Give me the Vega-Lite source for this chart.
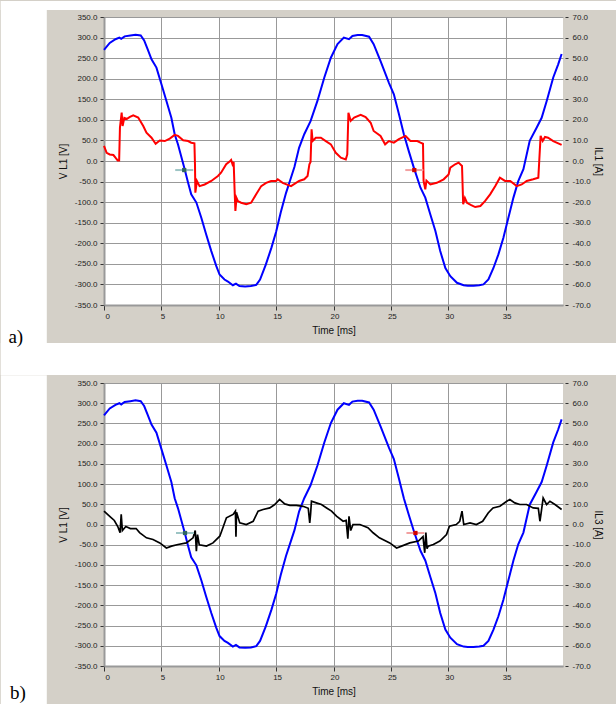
{
  "$schema": "https://vega.github.io/schema/vega-lite/v6.json",
  "background": "#d4d0c8",
  "padding": {"left": 0, "top": 0, "right": 0, "bottom": 0},
  "spacing": 0,
  "datasets": {
    "blue": [
      {"t":0,"v":270},{"t":0.5,"v":287},{"t":1,"v":296},{"t":1.34,"v":300},{"t":1.5,"v":297},{"t":1.8,"v":303},{"t":2.3,"v":305},{"t":2.75,"v":307},{"t":3.2,"v":305},{"t":3.5,"v":293},{"t":3.8,"v":272},{"t":4.14,"v":247},{"t":4.57,"v":227},{"t":5,"v":187},{"t":5.44,"v":146},{"t":5.87,"v":105},{"t":6.16,"v":65},{"t":6.45,"v":40},{"t":7.03,"v":-20},{"t":7.3,"v":-50},{"t":7.6,"v":-81},{"t":8.05,"v":-101},{"t":8.48,"v":-138},{"t":8.9,"v":-178},{"t":9.35,"v":-219},{"t":9.78,"v":-255},{"t":10.07,"v":-276},{"t":10.5,"v":-288},{"t":10.8,"v":-293},{"t":11.23,"v":-302},{"t":11.5,"v":-298},{"t":11.8,"v":-304},{"t":12.3,"v":-305},{"t":12.8,"v":-304},{"t":13.27,"v":-301},{"t":13.6,"v":-288},{"t":14.1,"v":-252},{"t":14.6,"v":-210},{"t":15,"v":-172},{"t":15.4,"v":-125},{"t":15.86,"v":-78},{"t":16.3,"v":-40},{"t":16.6,"v":-14},{"t":17,"v":32},{"t":17.45,"v":65},{"t":18,"v":97},{"t":18.6,"v":146},{"t":19.2,"v":203},{"t":19.77,"v":251},{"t":20.35,"v":284},{"t":20.9,"v":300},{"t":21.35,"v":296},{"t":21.65,"v":304},{"t":22.1,"v":306},{"t":22.5,"v":306},{"t":23.1,"v":302},{"t":23.5,"v":284},{"t":24.1,"v":243},{"t":24.83,"v":190},{"t":25.26,"v":162},{"t":25.7,"v":114},{"t":26.13,"v":65},{"t":26.56,"v":24},{"t":27,"v":-16},{"t":27.58,"v":-65},{"t":28,"v":-89},{"t":28.44,"v":-130},{"t":28.88,"v":-170},{"t":29.3,"v":-219},{"t":29.75,"v":-260},{"t":30.18,"v":-280},{"t":30.76,"v":-296},{"t":31.34,"v":-302},{"t":31.7,"v":-303},{"t":32.2,"v":-303},{"t":32.7,"v":-302},{"t":33.07,"v":-300},{"t":33.5,"v":-288},{"t":33.94,"v":-260},{"t":34.37,"v":-227},{"t":34.8,"v":-187},{"t":35.24,"v":-138},{"t":35.68,"v":-89},{"t":36.1,"v":-49},{"t":36.55,"v":-20},{"t":37.1,"v":49},{"t":37.7,"v":81},{"t":38.14,"v":105},{"t":38.58,"v":146},{"t":39.15,"v":203},{"t":39.58,"v":235},{"t":39.88,"v":260}
    ],
    "red": [
      {"t":0,"a":7.3},{"t":0.23,"a":4},{"t":0.5,"a":3.2},{"t":0.82,"a":2.9},{"t":1,"a":1.6},{"t":1.19,"a":0.3},{"t":1.32,"a":0.3},{"t":1.39,"a":16.2},{"t":1.54,"a":23.5},{"t":1.62,"a":17},{"t":1.77,"a":21},{"t":2,"a":20.5},{"t":2.26,"a":21.4},{"t":2.55,"a":22.2},{"t":2.98,"a":21.1},{"t":3.42,"a":17},{"t":3.7,"a":13.8},{"t":4.14,"a":11.3},{"t":4.5,"a":8.4},{"t":4.86,"a":10},{"t":5.3,"a":9.7},{"t":5.73,"a":10.9},{"t":6.16,"a":12.7},{"t":6.45,"a":12.2},{"t":6.9,"a":10.1},{"t":7.33,"a":9.7},{"t":7.6,"a":8.9},{"t":7.88,"a":8.6},{"t":7.93,"a":-2},{"t":7.96,"a":-15.4},{"t":8.1,"a":-9.7},{"t":8.33,"a":-12.2},{"t":8.77,"a":-11.4},{"t":9.35,"a":-9.7},{"t":9.93,"a":-7.3},{"t":10.2,"a":-5.7},{"t":10.65,"a":-1.6},{"t":11,"a":0},{"t":11.08,"a":0.5},{"t":11.2,"a":-1.6},{"t":11.3,"a":-0.5},{"t":11.38,"a":-14},{"t":11.45,"a":-24.3},{"t":11.55,"a":-18},{"t":11.67,"a":-19.5},{"t":11.95,"a":-20.3},{"t":12.4,"a":-21},{"t":12.82,"a":-20.3},{"t":13.26,"a":-16.2},{"t":13.7,"a":-12.2},{"t":14.13,"a":-10.6},{"t":14.56,"a":-9.7},{"t":15,"a":-9.7},{"t":15.14,"a":-8.9},{"t":15.57,"a":-10.6},{"t":16.3,"a":-12.2},{"t":17,"a":-9.7},{"t":17.45,"a":-8.9},{"t":17.74,"a":-7.3},{"t":17.9,"a":-1.6},{"t":18,"a":-0.5},{"t":18.09,"a":15.4},{"t":18.18,"a":9.7},{"t":18.46,"a":11.3},{"t":18.9,"a":11.3},{"t":19.33,"a":9.7},{"t":19.77,"a":8.1},{"t":20.2,"a":4},{"t":20.64,"a":1.6},{"t":21.07,"a":0.8},{"t":21.2,"a":3.2},{"t":21.3,"a":23.5},{"t":21.5,"a":19.5},{"t":21.8,"a":21.1},{"t":22.37,"a":22.4},{"t":22.8,"a":21.4},{"t":23.24,"a":18.6},{"t":23.5,"a":14.6},{"t":24.1,"a":12.2},{"t":24.5,"a":8.1},{"t":24.83,"a":9.7},{"t":25.26,"a":8.9},{"t":25.7,"a":10.6},{"t":26.28,"a":12.2},{"t":26.7,"a":9.7},{"t":27.3,"a":9.7},{"t":27.58,"a":8.9},{"t":27.8,"a":8.4},{"t":27.85,"a":-9.7},{"t":28,"a":-13.8},{"t":28.1,"a":-9.5},{"t":28.44,"a":-11.4},{"t":29,"a":-10.6},{"t":29.6,"a":-8.9},{"t":30.03,"a":-6.5},{"t":30.18,"a":-3.2},{"t":30.6,"a":-1.6},{"t":30.9,"a":-0.8},{"t":31.2,"a":-2.4},{"t":31.3,"a":-21},{"t":31.45,"a":-18},{"t":31.63,"a":-20.3},{"t":32,"a":-21.5},{"t":32.35,"a":-22.4},{"t":32.8,"a":-21.9},{"t":33.2,"a":-19.5},{"t":33.65,"a":-16.2},{"t":34.1,"a":-12.2},{"t":34.5,"a":-8.1},{"t":34.95,"a":-9.7},{"t":35.4,"a":-9.7},{"t":35.97,"a":-12.2},{"t":36.4,"a":-11.4},{"t":36.84,"a":-9.7},{"t":37.4,"a":-8.9},{"t":37.85,"a":-8.1},{"t":37.93,"a":0},{"t":38.05,"a":12.2},{"t":38.23,"a":9.7},{"t":38.43,"a":11.7},{"t":38.7,"a":11.3},{"t":39.15,"a":9.7},{"t":39.88,"a":7.8}
    ],
    "black": [
      {"t":0,"a":6.6},{"t":0.5,"a":4},{"t":0.9,"a":2},{"t":1.2,"a":-1},{"t":1.4,"a":-4},{"t":1.5,"a":5},{"t":1.6,"a":-3},{"t":1.9,"a":-1},{"t":2.3,"a":-2},{"t":2.8,"a":-2},{"t":3.1,"a":-4},{"t":3.7,"a":-6.6},{"t":4.27,"a":-7.4},{"t":4.86,"a":-9.1},{"t":5.44,"a":-11.6},{"t":5.88,"a":-10.7},{"t":6.45,"a":-9.9},{"t":7.18,"a":-9.1},{"t":7.76,"a":-6.6},{"t":7.95,"a":-3},{"t":8.05,"a":-13.2},{"t":8.15,"a":-5},{"t":8.3,"a":-10},{"t":8.93,"a":-10.7},{"t":9.5,"a":-9.1},{"t":10.09,"a":-5.8},{"t":10.4,"a":-1},{"t":10.67,"a":3.3},{"t":11.25,"a":5},{"t":11.45,"a":6.6},{"t":11.5,"a":-6},{"t":11.55,"a":6},{"t":11.83,"a":0.8},{"t":12.4,"a":0},{"t":13,"a":1.6},{"t":13.43,"a":6.6},{"t":13.86,"a":7.4},{"t":14.45,"a":8.2},{"t":14.88,"a":9.9},{"t":15.3,"a":12.4},{"t":15.75,"a":10.2},{"t":16.2,"a":9.5},{"t":16.77,"a":9.5},{"t":17.35,"a":9},{"t":17.8,"a":8},{"t":17.93,"a":0.8},{"t":18,"a":5},{"t":18.08,"a":11.5},{"t":18.5,"a":10.7},{"t":18.95,"a":9.9},{"t":19.4,"a":8.2},{"t":19.83,"a":6.6},{"t":20.26,"a":4.1},{"t":20.84,"a":1.6},{"t":21.1,"a":2},{"t":21.25,"a":-7},{"t":21.35,"a":4},{"t":21.5,"a":-3},{"t":21.7,"a":0},{"t":22.3,"a":0},{"t":23,"a":-1.6},{"t":23.45,"a":-4.1},{"t":24,"a":-6.6},{"t":24.9,"a":-9.1},{"t":25.5,"a":-11.6},{"t":25.93,"a":-10.7},{"t":26.65,"a":-9.1},{"t":27.4,"a":-8.2},{"t":27.8,"a":-6},{"t":27.95,"a":-14},{"t":28.05,"a":-4},{"t":28.15,"a":-12},{"t":28.25,"a":-10.7},{"t":28.7,"a":-9.9},{"t":29.27,"a":-8.2},{"t":29.85,"a":-5},{"t":30.1,"a":-0.8},{"t":30.7,"a":0},{"t":31,"a":1.6},{"t":31.2,"a":6.6},{"t":31.35,"a":0},{"t":31.9,"a":0.8},{"t":32.45,"a":0},{"t":33,"a":1.6},{"t":33.48,"a":5.7},{"t":33.9,"a":8.2},{"t":34.5,"a":9},{"t":35.1,"a":11.5},{"t":35.37,"a":12.4},{"t":35.8,"a":10.7},{"t":36.24,"a":9.9},{"t":36.83,"a":9.9},{"t":37.4,"a":8.2},{"t":37.85,"a":8},{"t":37.99,"a":1.6},{"t":38.1,"a":6},{"t":38.27,"a":13.1},{"t":38.57,"a":9.9},{"t":38.86,"a":11.5},{"t":39.3,"a":9.9},{"t":39.88,"a":7.4}
    ]
  },
  "vconcat": [
    {
      "width": 459,
      "height": 288,
      "layer": [
        {"data": {"name": "blue"}, "mark": {"type": "line", "color": "#0000ff", "strokeWidth": 2},
         "encoding": {
           "x": {"field": "t", "type": "quantitative", "scale": {"domain": [0, 40], "nice": false, "zero": false},
                 "axis": {"values": [0, 5, 10, 15, 20, 25, 30, 35], "title": "Time [ms]", "grid": true, "tickSize": 5, "labelPadding": 2, "titlePadding": 5, "labelOffset": 1, "labelOverlap": false}},
           "y": {"field": "v", "type": "quantitative", "scale": {"domain": [-350, 350], "nice": false, "zero": false},
                 "axis": {"orient": "left", "values": [-350, -300, -250, -200, -150, -100, -50, 0, 50, 100, 150, 200, 250, 300, 350], "labelExpr": "(datum.value < 0 ? '-' : '') + format(abs(datum.value), '.1f')", "title": "V L1 [V]", "grid": true, "tickSize": 4, "labelPadding": 3, "titlePadding": 6, "labelOverlap": false}}
         }},
        {"data": {"name": "red"}, "mark": {"type": "line", "color": "#ff0000", "strokeWidth": 2},
         "encoding": {
           "x": {"field": "t", "type": "quantitative", "scale": {"domain": [0, 40], "nice": false, "zero": false}},
           "y": {"field": "a", "type": "quantitative", "scale": {"domain": [-70, 70], "nice": false, "zero": false},
                 "axis": {"orient": "right", "values": [-70, -60, -50, -40, -30, -20, -10, 0, 10, 20, 30, 40, 50, 60, 70], "labelExpr": "(datum.value < 0 ? '-' : '') + format(abs(datum.value), '.1f')", "title": "IL1 [A]", "grid": false, "domain": false, "offset": 2, "tickSize": 3, "labelPadding": 4, "titlePadding": 2, "labelOverlap": false}}
         }},
        {
          "layer": [
            {"data": {"values": [{}]}, "mark": {"type": "rect", "color": "white"},
             "encoding": {"x": {"datum": -8.993, "type": "quantitative", "scale": {"domain": [0, 40], "nice": false, "zero": false}}, "x2": {"datum": -4.985},
                          "y": {"datum": 388.9, "type": "quantitative", "scale": {"domain": [-350, 350], "nice": false, "zero": false}, "axis": null}, "y2": {"datum": -520.1}}},
            {"data": {"values": [{}]}, "mark": {"type": "rect", "color": "white"},
             "encoding": {"x": {"datum": -8.993, "type": "quantitative", "scale": {"domain": [0, 40], "nice": false, "zero": false}}, "x2": {"datum": 44.65},
                          "y": {"datum": 388.9, "type": "quantitative", "scale": {"domain": [-350, 350], "nice": false, "zero": false}, "axis": null}, "y2": {"datum": 367}}},
            {"data": {"values": [{}]}, "mark": {"type": "rect", "color": "white"},
             "encoding": {"x": {"datum": -8.993, "type": "quantitative", "scale": {"domain": [0, 40], "nice": false, "zero": false}}, "x2": {"datum": 44.65},
                          "y": {"datum": -442.4, "type": "quantitative", "scale": {"domain": [-350, 350], "nice": false, "zero": false}, "axis": null}, "y2": {"datum": -520.1}}},
            {"data": {"values": [{}]}, "mark": {"type": "point", "shape": "M-1,0L1,0", "size": 324, "filled": false, "stroke": "#9cc4c4", "strokeWidth": 2, "opacity": 1},
             "encoding": {"x": {"datum": 6.99, "type": "quantitative", "scale": {"domain": [0, 40], "nice": false, "zero": false}},
                          "y": {"datum": -22, "type": "quantitative", "scale": {"domain": [-350, 350], "nice": false, "zero": false}, "axis": null}}},
            {"data": {"values": [{}]}, "mark": {"type": "square", "size": 18, "color": "#2f6464", "opacity": 1},
             "encoding": {"x": {"datum": 6.99, "type": "quantitative", "scale": {"domain": [0, 40], "nice": false, "zero": false}},
                          "y": {"datum": -22, "type": "quantitative", "scale": {"domain": [-350, 350], "nice": false, "zero": false}, "axis": null}}},
            {"data": {"values": [{}]}, "mark": {"type": "point", "shape": "M-1,0L1,0", "size": 324, "filled": false, "stroke": "#f2a0a0", "strokeWidth": 2, "opacity": 1},
             "encoding": {"x": {"datum": 27.04, "type": "quantitative", "scale": {"domain": [0, 40], "nice": false, "zero": false}},
                          "y": {"datum": -22, "type": "quantitative", "scale": {"domain": [-350, 350], "nice": false, "zero": false}, "axis": null}}},
            {"data": {"values": [{}]}, "mark": {"type": "square", "size": 18, "color": "#d00000", "opacity": 1},
             "encoding": {"x": {"datum": 27.04, "type": "quantitative", "scale": {"domain": [0, 40], "nice": false, "zero": false}},
                          "y": {"datum": -22, "type": "quantitative", "scale": {"domain": [-350, 350], "nice": false, "zero": false}, "axis": null}}},
            {"data": {"values": [{}]}, "mark": {"type": "text", "text": "a)", "font": "Liberation Serif", "fontSize": 19, "color": "black", "align": "center", "baseline": "middle"},
             "encoding": {"x": {"datum": -7.69, "type": "quantitative", "scale": {"domain": [0, 40], "nice": false, "zero": false}},
                          "y": {"datum": -427.8, "type": "quantitative", "scale": {"domain": [-350, 350], "nice": false, "zero": false}, "axis": null}}}
          ]
        }
      ],
      "resolve": {"scale": {"y": "independent"}}
    },
    {
      "width": 459,
      "height": 283,
      "layer": [
        {"data": {"name": "blue"}, "mark": {"type": "line", "color": "#0000ff", "strokeWidth": 2},
         "encoding": {
           "x": {"field": "t", "type": "quantitative", "scale": {"domain": [0, 40], "nice": false, "zero": false},
                 "axis": {"values": [0, 5, 10, 15, 20, 25, 30, 35], "title": "Time [ms]", "grid": true, "tickSize": 5, "labelPadding": 2, "titlePadding": 5, "labelOffset": 1, "labelOverlap": false}},
           "y": {"field": "v", "type": "quantitative", "scale": {"domain": [-350, 350], "nice": false, "zero": false},
                 "axis": {"orient": "left", "values": [-350, -300, -250, -200, -150, -100, -50, 0, 50, 100, 150, 200, 250, 300, 350], "labelExpr": "(datum.value < 0 ? '-' : '') + format(abs(datum.value), '.1f')", "title": "V L1 [V]", "grid": true, "tickSize": 4, "labelPadding": 3, "titlePadding": 6, "labelOverlap": false}}
         }},
        {"data": {"name": "black"}, "mark": {"type": "line", "color": "#000000", "strokeWidth": 1.7},
         "encoding": {
           "x": {"field": "t", "type": "quantitative", "scale": {"domain": [0, 40], "nice": false, "zero": false}},
           "y": {"field": "a", "type": "quantitative", "scale": {"domain": [-70, 70], "nice": false, "zero": false},
                 "axis": {"orient": "right", "values": [-70, -60, -50, -40, -30, -20, -10, 0, 10, 20, 30, 40, 50, 60, 70], "labelExpr": "(datum.value < 0 ? '-' : '') + format(abs(datum.value), '.1f')", "title": "IL3 [A]", "grid": false, "domain": false, "offset": 2, "tickSize": 3, "labelPadding": 4, "titlePadding": 2, "labelOverlap": false}}
         }},
        {
          "layer": [
            {"data": {"values": [{}]}, "mark": {"type": "rect", "color": "white"},
             "encoding": {"x": {"datum": -8.993, "type": "quantitative", "scale": {"domain": [0, 40], "nice": false, "zero": false}}, "x2": {"datum": -4.985},
                          "y": {"datum": 369.05, "type": "quantitative", "scale": {"domain": [-350, 350], "nice": false, "zero": false}, "axis": null}, "y2": {"datum": -444.7}}},
            {"data": {"values": [{}]}, "mark": {"type": "point", "shape": "M-1,0L1,0", "size": 324, "filled": false, "stroke": "#9cc4c4", "strokeWidth": 2, "opacity": 1},
             "encoding": {"x": {"datum": 7.06, "type": "quantitative", "scale": {"domain": [0, 40], "nice": false, "zero": false}},
                          "y": {"datum": -21, "type": "quantitative", "scale": {"domain": [-350, 350], "nice": false, "zero": false}, "axis": null}}},
            {"data": {"values": [{}]}, "mark": {"type": "square", "size": 18, "color": "#2f6464", "opacity": 1},
             "encoding": {"x": {"datum": 7.06, "type": "quantitative", "scale": {"domain": [0, 40], "nice": false, "zero": false}},
                          "y": {"datum": -21, "type": "quantitative", "scale": {"domain": [-350, 350], "nice": false, "zero": false}, "axis": null}}},
            {"data": {"values": [{}]}, "mark": {"type": "point", "shape": "M-1,0L1,0", "size": 324, "filled": false, "stroke": "#f2a0a0", "strokeWidth": 2, "opacity": 1},
             "encoding": {"x": {"datum": 27.14, "type": "quantitative", "scale": {"domain": [0, 40], "nice": false, "zero": false}},
                          "y": {"datum": -21, "type": "quantitative", "scale": {"domain": [-350, 350], "nice": false, "zero": false}, "axis": null}}},
            {"data": {"values": [{}]}, "mark": {"type": "square", "size": 18, "color": "#d00000", "opacity": 1},
             "encoding": {"x": {"datum": 27.14, "type": "quantitative", "scale": {"domain": [0, 40], "nice": false, "zero": false}},
                          "y": {"datum": -21, "type": "quantitative", "scale": {"domain": [-350, 350], "nice": false, "zero": false}, "axis": null}}},
            {"data": {"values": [{}]}, "mark": {"type": "text", "text": "b)", "font": "Liberation Serif", "fontSize": 19, "color": "black", "align": "center", "baseline": "middle"},
             "encoding": {"x": {"datum": -7.51, "type": "quantitative", "scale": {"domain": [0, 40], "nice": false, "zero": false}},
                          "y": {"datum": -417.5, "type": "quantitative", "scale": {"domain": [-350, 350], "nice": false, "zero": false}, "axis": null}}}
          ]
        }
      ],
      "resolve": {"scale": {"y": "independent"}}
    }
  ],
  "config": {
    "view": {"fill": "white", "stroke": null},
    "axis": {
      "labelFont": "Liberation Sans", "labelFontSize": 8, "labelColor": "#222",
      "titleFont": "Liberation Sans", "titleFontSize": 10, "titleFontWeight": "normal", "titleColor": "#111",
      "tickColor": "#333", "domainColor": "#999", "domainWidth": 2,
      "gridColor": "#999", "gridWidth": 1, "gridOpacity": 1,
      "labelOverlap": false, "labelBound": false
    }
  }
}
